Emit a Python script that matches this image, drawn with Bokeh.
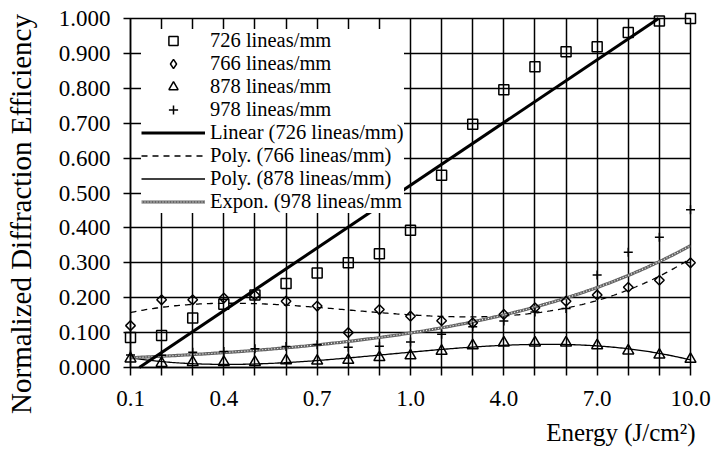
import numpy as np
from bokeh.plotting import figure
from bokeh.core.properties import value
from bokeh.models import (Range1d, FixedTicker, NumeralTickFormatter, Legend,
                          LegendItem)
from bokeh.embed import file_html
from bokeh.resources import INLINE

# Energy categories (J/cm^2), evenly spaced on the axis
energy = ["0.1", "0.2", "0.3", "0.4", "0.5", "0.6", "0.7", "0.8", "0.9", "1.0",
          "2.0", "3.0", "4.0", "5.0", "6.0", "7.0", "8.0", "9.0", "10.0"]

# Normalized diffraction efficiency per grating
eff_726 = [0.086, 0.092, 0.142, 0.181, 0.208, 0.241, 0.271, 0.300, 0.326, 0.393,
           0.551, 0.697, 0.796, 0.862, 0.905, 0.919, 0.960, 0.993, 1.000]
eff_766 = [0.120, 0.194, 0.194, 0.199, 0.207, 0.190, 0.176, 0.100, 0.166, 0.147,
           0.134, 0.128, 0.152, 0.171, 0.190, 0.208, 0.230, 0.250, 0.300]
eff_878 = [0.025, 0.012, 0.015, 0.015, 0.015, 0.020, 0.019, 0.021, 0.029, 0.034,
           0.047, 0.063, 0.071, 0.071, 0.071, 0.063, 0.048, 0.036, 0.024]
eff_978 = [0.036, 0.035, 0.044, 0.046, 0.054, 0.060, 0.065, 0.058, 0.061, 0.073,
           0.095, 0.117, 0.133, 0.159, 0.169, 0.265, 0.330, 0.373, 0.452]

y_ticks = [round(0.1 * i, 1) for i in range(11)]
label_every = 3

FONT = "Liberation Serif"

x = np.arange(len(energy))
xs = np.linspace(0, len(energy) - 1, 300)

# Trend lines fitted over the category index
lin = np.polyfit(x, eff_726, 1)
lin_x0 = max(0.0, -lin[1] / lin[0])
lin_x1 = min(float(x[-1]), (1.0 - lin[1]) / lin[0])
lin_xs = np.array([lin_x0, lin_x1])
lin_ys = np.polyval(lin, lin_xs)

poly_766 = np.polyval(np.polyfit(x, eff_766, 3), xs)
poly_878 = np.polyval(np.polyfit(x, eff_878, 3), xs)
eb, ea = np.polyfit(x, np.log(eff_978), 1)
expo_978 = np.exp(ea + eb * xs)

x_rng = Range1d(0, len(energy) - 1)
y_rng = Range1d(0, 1.0)
p = figure(width=715, height=450, output_backend="svg", toolbar_location=None,
           x_range=x_rng, y_range=y_rng,
           min_border_left=130, min_border_right=25, min_border_top=18,
           min_border_bottom=83, background_fill_color="white",
           border_fill_color="white")
p.outline_line_color = "black"
p.outline_line_width = 1.5

# grid
p.xgrid.grid_line_color = "black"
p.ygrid.grid_line_color = "black"
p.xgrid.grid_line_width = 1.5
p.ygrid.grid_line_width = 1.5

# x axis: every category gets a tick, every third one a label
xa = p.xaxis[0]
xa.ticker = FixedTicker(ticks=list(x))
xa.major_label_overrides = {int(i): (energy[i] if i % label_every == 0 else "")
                            for i in x}
ya = p.yaxis[0]
ya.ticker = FixedTicker(ticks=y_ticks)
ya.formatter = NumeralTickFormatter(format="0.000")
for ax in (xa, ya):
    ax.axis_line_color = "black"
    ax.axis_line_width = 1.5
    ax.major_tick_line_color = "black"
    ax.major_tick_line_width = 1.5
    ax.major_tick_in = 0
    ax.minor_tick_line_color = None
    ax.major_label_text_font = FONT
    ax.major_label_text_font_size = "23px"
    ax.major_label_text_color = "black"
xa.major_tick_out = 8
xa.major_label_standoff = 15
ya.major_tick_out = 7
ya.major_label_standoff = 13

# trend lines
r_lin = p.line(lin_xs, lin_ys, line_color="black", line_width=3, level="overlay")
r_p766 = p.line(xs, poly_766, line_color="black", line_width=1.3, line_dash="6 5")
r_p878 = p.line(xs, poly_878, line_color="black", line_width=1.3)
r_exp_a = p.line(xs, expo_978, line_color="#666666", line_width=3.2)
r_exp_b = p.line(xs, expo_978, line_color="white", line_width=1.1, line_dash="1 2")

# data points
mk = dict(fill_alpha=0, line_color="black", line_width=1.5, level="overlay")
r726 = p.scatter(x, eff_726, marker="square", size=10, **mk)
r766 = p.scatter(x, eff_766, marker="square", angle=np.pi / 4, size=6.8, **mk)
r878 = p.scatter(x, eff_878, marker="triangle", size=11, **mk)
r978 = p.scatter(x, eff_978, marker="cross", size=9, **mk)
# legend key for the diamond series (upright diamond outline, not drawn in the plot)
r766_key = p.scatter(x, eff_766, marker="diamond", size=10, fill_alpha=0,
                     line_color="black", line_width=1.5, visible=False)

legend = Legend(items=[
    LegendItem(label="726 lineas/mm", renderers=[r726]),
    LegendItem(label="766 lineas/mm", renderers=[r766_key]),
    LegendItem(label="878 lineas/mm", renderers=[r878]),
    LegendItem(label="978 lineas/mm", renderers=[r978]),
    LegendItem(label="Linear (726 lineas/mm)", renderers=[r_lin]),
    LegendItem(label="Poly. (766 lineas/mm)", renderers=[r_p766]),
    LegendItem(label="Poly. (878 lineas/mm)", renderers=[r_p878]),
    LegendItem(label="Expon. (978 lineas/mm", renderers=[r_exp_a, r_exp_b]),
], location="top_left")
legend.background_fill_color = "white"
legend.background_fill_alpha = 1.0
legend.border_line_color = None
legend.inactive_fill_alpha = 0.0
legend.label_text_font = FONT
legend.label_text_font_size = "20.5px"
legend.label_text_color = "black"
legend.glyph_width = 64
legend.glyph_height = 23
legend.label_height = 23
legend.spacing = 0
legend.padding = 10
legend.margin = 11
legend.label_standoff = 5
p.add_layout(legend)

# axis titles, anchored to the frame corners and offset in pixels
p.text(x=[x_rng.end], y=[y_rng.start], text=["Energy (J/cm²)"],
       x_offset=5, y_offset=65, text_align="right", text_baseline="alphabetic",
       text_font=value(FONT), text_font_size=value("25px"), text_color="black",
       level="overlay")
p.text(x=[x_rng.start], y=[(y_rng.start + y_rng.end) / 2],
       text=["Normalized Diffraction Efficiency"], angle=np.pi / 2,
       x_offset=-110, y_offset=21, text_align="center", text_baseline="alphabetic",
       text_font=value(FONT), text_font_size=value("29px"), text_color="black",
       level="overlay")

open("out.html", "w").write(file_html(p, INLINE))
